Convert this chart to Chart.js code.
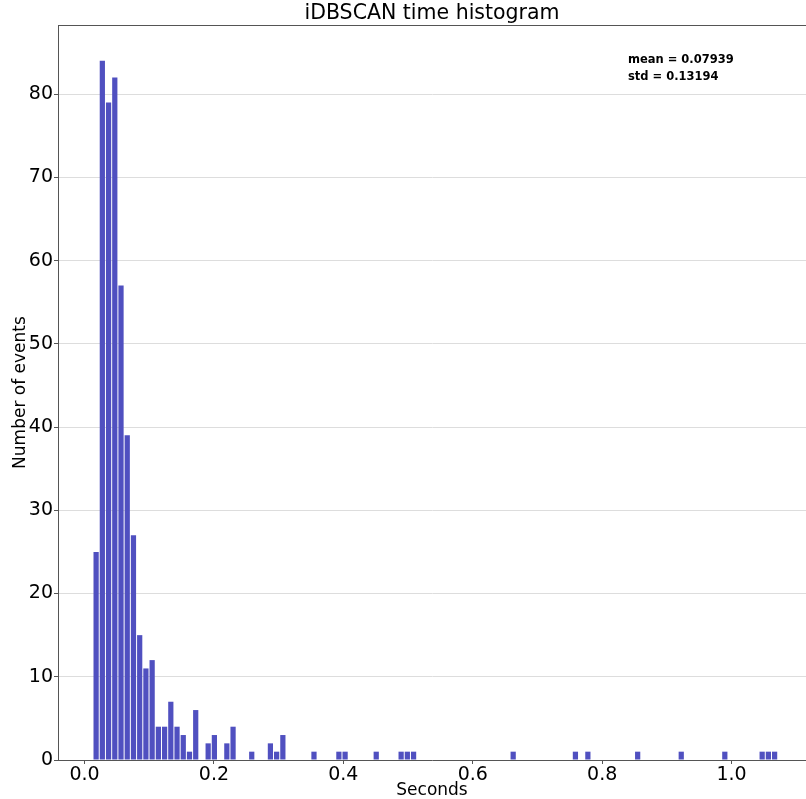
<!DOCTYPE html>
<html>
<head>
<meta charset="utf-8">
<title>iDBSCAN time histogram</title>
<script src="https://cdn.jsdelivr.net/npm/chart.js@4.4.1/dist/chart.umd.min.js"></script>
<style>
  html, body { margin: 0; padding: 0; background: #fff; }
  #wrap { width: 806px; height: 799px; }
</style>
</head>
<body>
<div id="wrap"><canvas id="histChart" width="806" height="799"></canvas></div>
<script>
// ===========================
// DATA
// ===========================
// histogram bins: first edge and width (seconds)
const binStart = 0.0131;
const binWidth = 0.00962;

// counts per bin (110 bins)
const binCounts = [
  25, 84, 79, 82, 57, 39, 27, 15, 11, 12,
  4, 4, 7, 4, 3, 1, 6, 0, 2, 3,
  0, 2, 4, 0, 0, 1, 0, 0, 2, 1,
  3, 0, 0, 0, 0, 1, 0, 0, 0, 1,
  1, 0, 0, 0, 0, 1, 0, 0, 0, 1,
  1, 1, 0, 0, 0, 0, 0, 0, 0, 0,
  0, 0, 0, 0, 0, 0, 0, 1, 0, 0,
  0, 0, 0, 0, 0, 0, 0, 1, 0, 1,
  0, 0, 0, 0, 0, 0, 0, 1, 0, 0,
  0, 0, 0, 0, 1, 0, 0, 0, 0, 0,
  0, 1, 0, 0, 0, 0, 0, 1, 1, 1
];

const xTickStep = 0.2;
const yTickStep = 10;
const statsLines = ["mean = 0.07939", "std = 0.13194"];

// ===========================
// CHART
// ===========================
const barPoints = binCounts.map((c, i) => ({ x: binStart + (i + 0.5) * binWidth, y: c }));

const frameAndText = {
  id: 'frameAndText',
  afterDraw(chart) {
    const { ctx, chartArea } = chart;
    ctx.save();
    // top spine
    ctx.strokeStyle = '#555';
    ctx.lineWidth = 1;
    ctx.beginPath();
    ctx.moveTo(chartArea.left, Math.round(chartArea.top) + 0.5);
    ctx.lineTo(chartArea.right, Math.round(chartArea.top) + 0.5);
    ctx.stroke();
    // stats annotation
    ctx.fillStyle = '#000';
    ctx.font = 'bold 11.5px "DejaVu Sans"';
    ctx.textBaseline = 'alphabetic';
    ctx.fillText(statsLines[0], chartArea.left + 570, chartArea.top + 38);
    ctx.fillText(statsLines[1], chartArea.left + 570, chartArea.top + 55);
    ctx.restore();
  }
};

new Chart(document.getElementById('histChart'), {
  type: 'bar',
  data: {
    datasets: [{
      data: barPoints,
      backgroundColor: 'rgb(80, 80, 192)',
      borderWidth: 0,
      categoryPercentage: 1.0,
      barPercentage: 0.84
    }]
  },
  options: {
    responsive: false,
    animation: false,
    layout: { padding: 0 },
    plugins: {
      legend: { display: false },
      tooltip: { enabled: false },
      title: {
        display: true,
        text: 'iDBSCAN time histogram',
        fullSize: false,
        color: '#000',
        font: { family: 'DejaVu Sans', size: 20.5, weight: 'normal', lineHeight: 1.1 },
        padding: { top: 2.45, bottom: 0 }
      }
    },
    scales: {
      x: {
        type: 'linear',
        min: -0.041,
        max: 1.115,
        offset: false,
        afterFit(scale) { scale.height = 39; },
        ticks: {
          stepSize: xTickStep,
          includeBounds: false,
          color: '#000',
          font: { family: 'DejaVu Sans', size: 19 },
          padding: 0,
          maxRotation: 0,
          callback: v => v.toFixed(1)
        },
        grid: { offset: false, drawOnChartArea: false, tickLength: 4, tickColor: '#555' },
        border: { color: '#555', width: 1 },
        title: {
          display: true,
          text: 'Seconds',
          color: '#000',
          font: { family: 'DejaVu Sans', size: 17, lineHeight: 1.0 },
          padding: { top: 0, bottom: 0 }
        }
      },
      y: {
        min: 0,
        max: 88.3,
        afterFit(scale) { scale.width = 58; },
        ticks: {
          stepSize: yTickStep,
          includeBounds: false,
          color: '#000',
          font: { family: 'DejaVu Sans', size: 19 },
          padding: 1
        },
        grid: { color: '#dddddd', lineWidth: 1, tickLength: 4, tickColor: '#555' },
        border: { color: '#555', width: 1 },
        title: {
          display: true,
          text: 'Number of events',
          color: '#000',
          font: { family: 'DejaVu Sans', size: 17 },
          padding: { top: 10, bottom: 0 }
        }
      }
    }
  },
  plugins: [frameAndText]
});
</script>
</body>
</html>
